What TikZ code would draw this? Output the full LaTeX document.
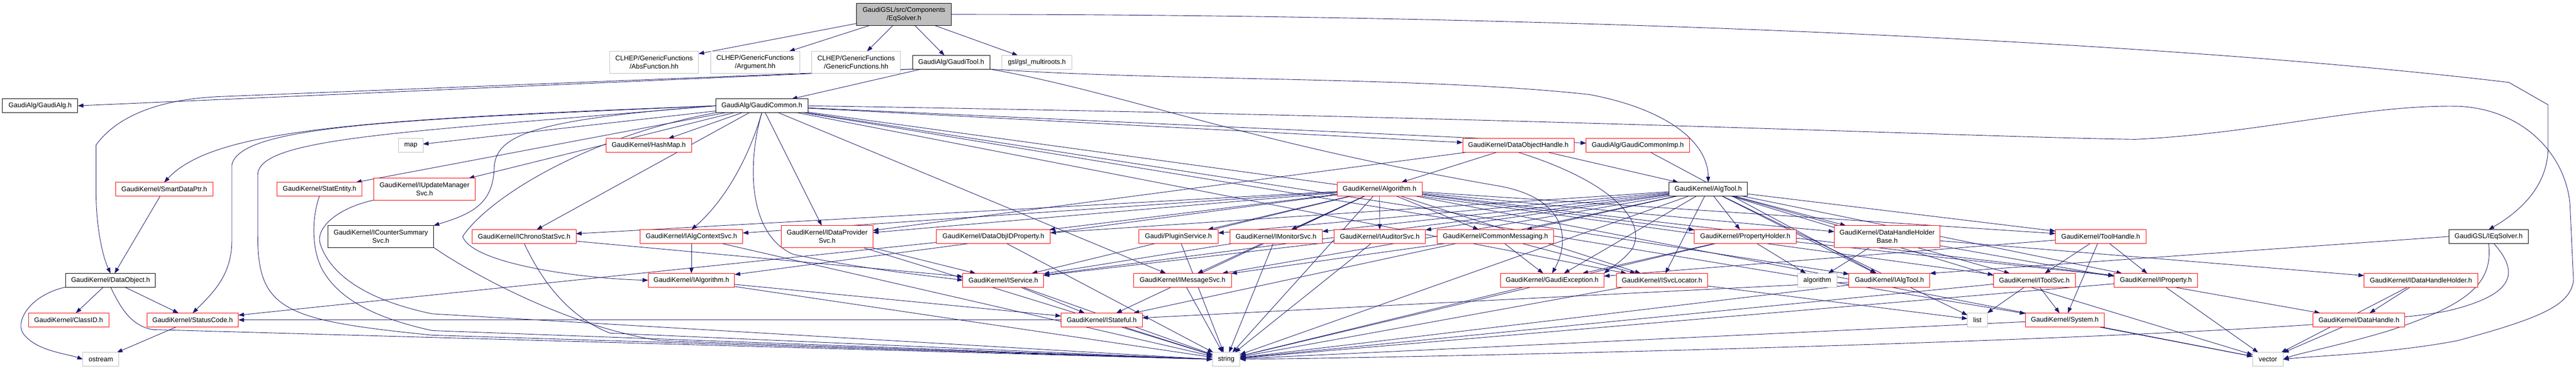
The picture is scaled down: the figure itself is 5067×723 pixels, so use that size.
\documentclass[tikz,border=0pt]{standalone}
\usepackage{fontspec}
\setmainfont{Liberation Sans}
\usetikzlibrary{arrows.meta}
\definecolor{edgeblue}{HTML}{191970}
\definecolor{boxgray}{HTML}{BFBFBF}
\definecolor{fillgray}{HTML}{BFBFBF}
\newcommand\nfont{\fontsize{13.3pt}{16pt}\selectfont}
\pgfdeclarelayer{bg}
\pgfdeclarelayer{edges}
\pgfsetlayers{bg,edges,main}
\tikzset{
  nb/.style={draw, rectangle, fill=white, inner sep=0pt, outer sep=0pt, line width=1pt,
    minimum height=27pt, align=center, font=\nfont, text=black},
  rb/.style={nb, draw=red},
  kb/.style={nb, draw=black},
  gb/.style={nb, draw=boxgray},
  tl/.style={minimum height=43pt},
  ed/.style={draw=edgeblue, line width=0.9pt, -{Triangle[length=11pt,width=8pt]}},
}
\begin{document}
\begin{tikzpicture}[x=1pt,y=-1pt]
\begin{pgfonlayer}{bg}
\fill[white] (0,0) rectangle (5067,723);
\end{pgfonlayer}
\useasboundingbox (0,0) rectangle (5067,723);
% row 0
\node[kb, tl, fill=fillgray, minimum width=186pt] (eqs) at (1778,28.3) {GaudiGSL/src/Components\\/EqSolver.h};
% row 1
\node[gb, tl, minimum width=175pt] (absf) at (1286.5,122.4) {CLHEP/GenericFunctions\\/AbsFunction.hh};
\node[gb, tl, minimum width=175pt] (arg) at (1485.5,122.4) {CLHEP/GenericFunctions\\/Argument.hh};
\node[gb, tl, minimum width=174pt] (genf) at (1684,122.4) {CLHEP/GenericFunctions\\/GenericFunctions.hh};
\node[kb, minimum width=152pt] (gtool) at (1871,122.4) {GaudiAlg/GaudiTool.h};
\node[gb, minimum width=137pt] (gsl) at (2039.5,122.4) {gsl/gsl\_multiroots.h};
% row 2
\node[kb, minimum width=148pt] (galg) at (79,208) {GaudiAlg/GaudiAlg.h};
\node[kb, minimum width=181pt] (gcommon) at (1498.5,208) {GaudiAlg/GaudiCommon.h};
% row 3
\node[gb, minimum width=48pt] (map) at (808,286) {map};
\node[rb, minimum width=168pt] (hashmap) at (1276,286) {GaudiKernel/HashMap.h};
\node[rb, minimum width=219pt] (dohandle) at (2986.5,286) {GaudiKernel/DataObjectHandle.h};
\node[rb, minimum width=203pt] (gcimp) at (3221.5,286) {GaudiAlg/GaudiCommonImp.h};
% row 4
\node[rb, minimum width=192pt] (sdp) at (323,372) {GaudiKernel/SmartDataPtr.h};
\node[rb, minimum width=167pt] (statent) at (628.5,372) {GaudiKernel/StatEntity.h};
\node[rb, tl, minimum width=200pt] (iupd) at (835,372) {GaudiKernel/IUpdateManager\\Svc.h};
\node[rb, minimum width=167pt] (algorithm) at (2713.5,372) {GaudiKernel/Algorithm.h};
\node[kb, minimum width=154pt] (algtool) at (3360,372) {GaudiKernel/AlgTool.h};
% row 5
\node[kb, tl, minimum width=208pt] (icsum) at (749,465) {GaudiKernel/ICounterSummary\\Svc.h};
\node[rb, minimum width=204pt] (ichrono) at (1031,465) {GaudiKernel/IChronoStatSvc.h};
\node[rb, minimum width=202pt] (ialgctx) at (1360,465) {GaudiKernel/IAlgContextSvc.h};
\node[rb, tl, minimum width=180pt] (idp) at (1627,465) {GaudiKernel/IDataProvider\\Svc.h};
\node[rb, minimum width=224pt] (doidprop) at (1954,465) {GaudiKernel/DataObjIDProperty.h};
\node[rb, minimum width=156pt] (plugin) at (2318,465) {Gaudi/PluginService.h};
\node[rb, minimum width=182pt] (imon) at (2510,465) {GaudiKernel/IMonitorSvc.h};
\node[rb, minimum width=180pt] (iaud) at (2714,465) {GaudiKernel/IAuditorSvc.h};
\node[rb, minimum width=229pt] (cmsg) at (2941.5,465) {GaudiKernel/CommonMessaging.h};
\node[rb, minimum width=200pt] (prophold) at (3433,465) {GaudiKernel/PropertyHolder.h};
\node[rb, tl, minimum width=208pt] (dhhb) at (3712,465) {GaudiKernel/DataHandleHolder\\Base.h};
\node[rb, minimum width=178pt] (toolh) at (4132,465) {GaudiKernel/ToolHandle.h};
\node[kb, minimum width=156pt] (ieqs) at (4895,465) {GaudiGSL/IEqSolver.h};
% row 6
\node[kb, minimum width=177pt] (dataobj) at (217.5,551) {GaudiKernel/DataObject.h};
\node[rb, minimum width=170pt] (ialg) at (1360,551) {GaudiKernel/IAlgorithm.h};
\node[rb, minimum width=159pt] (iservice) at (1973.5,551) {GaudiKernel/IService.h};
\node[rb, minimum width=192pt] (imsg) at (2326,551) {GaudiKernel/IMessageSvc.h};
\node[rb, minimum width=204pt] (gexc) at (3053,551) {GaudiKernel/GaudiException.h};
\node[rb, minimum width=180pt] (isvcloc) at (3269,551) {GaudiKernel/ISvcLocator.h};
\node[gb, minimum width=77pt] (algo) at (3574.5,551) {algorithm};
\node[rb, minimum width=159pt] (ialgtool) at (3716.5,551) {GaudiKernel/IAlgTool.h};
\node[rb, minimum width=161pt] (itoolsvc) at (4001.5,551) {GaudiKernel/IToolSvc.h};
\node[rb, minimum width=165pt] (iprop) at (4240.5,551) {GaudiKernel/IProperty.h};
\node[rb, minimum width=224pt] (idhh) at (4762,551) {GaudiKernel/IDataHandleHolder.h};
% row 7
\node[rb, minimum width=158pt] (classid) at (135,629) {GaudiKernel/ClassID.h};
\node[rb, minimum width=180pt] (statuscode) at (379,629) {GaudiKernel/StatusCode.h};
\node[rb, minimum width=160pt] (istateful) at (2167,629) {GaudiKernel/IStateful.h};
\node[gb, minimum width=39pt] (list) at (3889.5,629) {list};
\node[rb, minimum width=155pt] (system) at (4061.5,629) {GaudiKernel/System.h};
\node[rb, minimum width=180pt] (datahandle) at (4640,629) {GaudiKernel/DataHandle.h};
% row 8
\node[gb, minimum width=71pt] (ostream) at (198.5,706.5) {ostream};
\node[gb, minimum width=54pt] (string) at (2412,706.5) {string};
\node[gb, minimum width=60pt] (vector) at (4461,706.5) {vector};

\begin{pgfonlayer}{edges}
\foreach \a/\b in {eqs/absf, eqs/arg, eqs/genf, eqs/gtool, eqs/gsl,
  gtool/gcommon,
  gcommon/map, gcommon/hashmap, gcommon/statent, gcommon/iupd, gcommon/ichrono, gcommon/idp,
  gcommon/dohandle, gcommon/gcimp, gcommon/isvcloc, gcommon/itoolsvc, gcommon/ialgtool,
  gcommon/system, gcommon/imsg,
  sdp/dataobj, dataobj/classid, dataobj/statuscode, statuscode/ostream,
  ialgctx/ialg, ialgctx/string, idp/iservice, idp/string,
  doidprop/statuscode, doidprop/string, plugin/string,
  imon/iservice, imon/string, iaud/iservice, iaud/string,
  cmsg/imsg, cmsg/gexc, cmsg/isvcloc,
  ialg/istateful, ialg/string, iservice/istateful, iservice/string, imsg/string,
  istateful/string, istateful/statuscode, gexc/string, isvcloc/list, isvcloc/string,
  prophold/algo, prophold/iprop, prophold/gexc, prophold/string,
  dhhb/algo, dhhb/idhh, dhhb/datahandle,
  ialgtool/istateful, ialgtool/string,
  itoolsvc/list, itoolsvc/system, itoolsvc/string,
  toolh/itoolsvc, toolh/system, toolh/gexc, toolh/iprop,
  iprop/string, iprop/vector, idhh/datahandle, idhh/vector, datahandle/vector,
  system/string, system/vector,
  dohandle/algorithm, dohandle/algtool, dohandle/idp,
  algorithm/ialg, algorithm/iservice, algorithm/iprop, algorithm/imon, algorithm/iaud,
  algorithm/cmsg, algorithm/plugin, algorithm/doidprop, algorithm/ichrono, algorithm/ialgctx,
  algorithm/idp, algorithm/imsg, algorithm/istateful, algorithm/prophold, algorithm/dhhb,
  algorithm/toolh, algorithm/isvcloc, algorithm/string, algorithm/vector,
  algtool/ialgtool, algtool/iprop, algtool/iservice, algtool/isvcloc, algtool/imsg,
  algtool/itoolsvc, algtool/imon, algtool/iaud, algtool/istateful, algtool/cmsg,
  algtool/prophold, algtool/dhhb, algtool/toolh, algtool/plugin, algtool/doidprop,
  algtool/gexc, algtool/list, algtool/vector, algtool/string,
  gcimp/ialgtool}
  \draw[ed] (\a) -- (\b);

\draw[ed] (gtool.south west) -- (galg.east);
\draw[ed] (ieqs.west) -- (ialgtool.north east);
\draw[ed] (eqs.east) .. controls (3000,28) and (4200,75) .. (4935,162) -- (5012,206) -- (5012,290)
  .. controls (5012,370) and (4950,420) .. (ieqs.north);
\draw[ed] (gtool.south west) -- (430,190) .. controls (300,196) and (225,235) .. (189,285)
  -- (189,380) .. controls (189,440) and (200,500) .. (dataobj.north);
\draw[ed] (gtool.south east) .. controls (2300,160) and (2800,150) .. (3127,186)
  .. controls (3280,215) and (3360,280) .. (algtool.north);
\draw[ed] (gtool.south east) .. controls (2200,180) and (2450,280) .. (2950,366)
  .. controls (3080,390) and (3090,470) .. (gexc.north);
\draw[ed] (gcommon.west) .. controls (700,235) and (420,255) .. (sdp.north);
\draw[ed] (gcommon.west) .. controls (800,235) and (470,245) .. (456,325) -- (456,473)
  .. controls (456,540) and (420,575) .. (statuscode.north);
\draw[ed] (gcommon.west) .. controls (800,260) and (510,270) .. (507,343) -- (507,464)
  .. controls (507,610) and (560,630) .. (850,659) -- (string.west);
\draw[ed] (gcommon.west) .. controls (1050,235) and (975,265) .. (972,330)
  .. controls (970,400) and (930,420) .. (icsum.north east);
\draw[ed] (gcommon.south) .. controls (1470,320) and (1420,400) .. (ialgctx.north);
\draw[ed] (gcommon.south west) .. controls (1150,270) and (960,390) .. (910,465)
  .. controls (930,520) and (1150,548) .. (ialg.west);
\draw[ed] (gcommon.south) .. controls (1470,320) and (1470,460) .. (1560,500)
  .. controls (1700,530) and (1850,545) .. (iservice.west);
\draw[ed] (gcommon.east) .. controls (3000,230) and (3900,270) .. (4200,274)
  .. controls (4450,262) and (4650,205) .. (4837,209)
  .. controls (4960,215) and (5045,300) .. (5055,400) -- (5062,552)
  .. controls (5055,600) and (5000,625) .. (4833,670)
  .. controls (4700,695) and (4550,700) .. (vector.east);
\draw[ed] (dohandle.south) .. controls (3180,360) and (3240,440) .. (3210,490)
  .. controls (3190,515) and (3170,525) .. (gexc.north east);
\draw[ed] (dataobj.south west) .. controls (60,580) and (30,630) .. (45,655)
  .. controls (70,690) and (130,695) .. (ostream.west);
\draw[ed] (dataobj.south) .. controls (235,600) and (255,640) .. (300,648) -- (string.west);
\draw[ed] (statent.south) .. controls (612,430) and (612,500) .. (640,540)
  .. controls (680,600) and (760,630) .. (850,650) -- (string.west);
\draw[ed] (iupd.south west) .. controls (660,410) and (620,450) .. (630,480)
  .. controls (650,540) and (720,590) .. (850,617) -- (string.west);
\draw[ed] (icsum.south east) .. controls (900,520) and (1100,640) .. (1300,670) -- (string.west);
\draw[ed] (ichrono.south) .. controls (1060,540) and (1110,620) .. (1200,655) -- (string.west);
\draw[ed] (ichrono) -- (iservice);
\draw[ed] (ieqs.south) .. controls (4905,560) and (4850,600) .. (4700,650)
  .. controls (4600,680) and (4520,695) .. (vector.east);
\draw[ed] ([xshift=10pt]ieqs.south) .. controls (4960,540) and (4940,580) .. (4820,610)
  .. controls (4600,660) and (3000,700) .. (string.east);
\end{pgfonlayer}
\end{tikzpicture}
\end{document}
